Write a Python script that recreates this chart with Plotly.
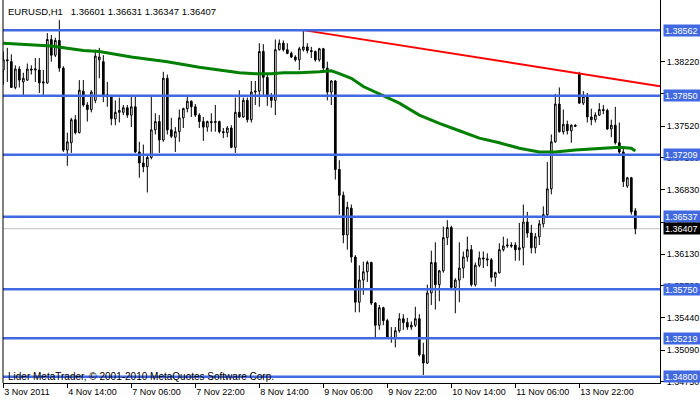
import plotly.graph_objects as go

# ---- candle data (EURUSD H1) ----
open_ = [1.3813, 1.3824, 1.3822, 1.3794, 1.3814, 1.3800, 1.3802, 1.3814, 1.3813, 1.3813,
         1.3800, 1.3799, 1.3846, 1.3829, 1.3845, 1.3815, 1.3726, 1.3734, 1.3759, 1.3745,
         1.3790, 1.3775, 1.3770, 1.3780, 1.3824, 1.3822, 1.3786, 1.3784, 1.3760, 1.3767,
         1.3767, 1.3772, 1.3764, 1.3773, 1.3724, 1.3712, 1.3708, 1.3718, 1.3748, 1.3757,
         1.3737, 1.3804, 1.3748, 1.3740, 1.3746, 1.3761, 1.3771, 1.3779, 1.3773, 1.3764,
         1.3757, 1.3751, 1.3757, 1.3756, 1.3757, 1.3746, 1.3745, 1.3750, 1.3729, 1.3767,
         1.3762, 1.3780, 1.3759, 1.3789, 1.3790, 1.3833, 1.3805, 1.3784, 1.3780, 1.3835,
         1.3842, 1.3835, 1.3831, 1.3827, 1.3824, 1.3835, 1.3838, 1.3834, 1.3833, 1.3824,
         1.3836, 1.3815, 1.3789, 1.3801, 1.3705, 1.3677, 1.3634, 1.3663, 1.3610, 1.3561,
         1.3585, 1.3594, 1.3604, 1.3560, 1.3536, 1.3555, 1.3541, 1.3523, 1.3522, 1.3530,
         1.3543, 1.3539, 1.3534, 1.3536, 1.3543, 1.3504, 1.3495, 1.3571, 1.3604, 1.3580,
         1.3595, 1.3631, 1.3642, 1.3577, 1.3585, 1.3598, 1.3610, 1.3618, 1.3580, 1.3601,
         1.3609, 1.3608, 1.3607, 1.3588, 1.3593, 1.3618, 1.3622, 1.3623, 1.3623, 1.3618,
         1.3620, 1.3648, 1.3636, 1.3620, 1.3632, 1.3646, 1.3656, 1.3684, 1.3735, 1.3776,
         1.3746, 1.3754, 1.3747, 1.3753, 1.3808, 1.3777, 1.3784, 1.3762, 1.3759, 1.3764,
         1.3770, 1.3769, 1.3749, 1.3753, 1.3734, 1.3724, 1.3687, 1.3696, 1.36601]

high = [1.3833, 1.3837, 1.3830, 1.3818, 1.3817, 1.3810, 1.3820, 1.3818, 1.3826, 1.3826,
        1.3813, 1.3853, 1.3851, 1.3848, 1.3867, 1.3817, 1.3745, 1.3761, 1.3764, 1.3802,
        1.3802, 1.3778, 1.3791, 1.3835, 1.3837, 1.3829, 1.3800, 1.3786, 1.3780, 1.3783,
        1.3775, 1.3775, 1.3786, 1.3784, 1.3735, 1.3732, 1.3721, 1.3784, 1.3766, 1.3764,
        1.3811, 1.3808, 1.3761, 1.3751, 1.3770, 1.3772, 1.3786, 1.3780, 1.3776, 1.3766,
        1.3762, 1.3758, 1.3766, 1.3775, 1.3758, 1.3750, 1.3752, 1.3753, 1.3783, 1.3791,
        1.3783, 1.3783, 1.3801, 1.3801, 1.3842, 1.3841, 1.3808, 1.3788, 1.3846, 1.3846,
        1.3845, 1.3842, 1.3833, 1.3829, 1.3838, 1.3856, 1.3842, 1.3838, 1.3834, 1.3837,
        1.3837, 1.3822, 1.3802, 1.3802, 1.3715, 1.3681, 1.3670, 1.3667, 1.3612, 1.3601,
        1.3605, 1.3606, 1.3605, 1.3561, 1.3558, 1.3556, 1.3543, 1.3534, 1.3534, 1.3549,
        1.3548, 1.3544, 1.3540, 1.3556, 1.3548, 1.3517, 1.3580, 1.3617, 1.3626, 1.3596,
        1.3643, 1.3650, 1.3644, 1.3587, 1.3626, 1.3616, 1.3632, 1.3623, 1.3604, 1.3616,
        1.3616, 1.3614, 1.3609, 1.3594, 1.3625, 1.3632, 1.3630, 1.3626, 1.3626, 1.3647,
        1.3667, 1.3659, 1.3645, 1.3636, 1.3650, 1.3665, 1.3713, 1.3743, 1.3787, 1.3794,
        1.3770, 1.3758, 1.3754, 1.3754, 1.3811, 1.3790, 1.3788, 1.3771, 1.3767, 1.3777,
        1.3775, 1.3771, 1.3759, 1.3773, 1.3756, 1.3728, 1.3697, 1.3697, 1.36631]

low = [1.3797, 1.3800, 1.3794, 1.3792, 1.3794, 1.3786, 1.3801, 1.3808, 1.3800, 1.3788,
       1.3786, 1.3798, 1.3822, 1.3827, 1.3811, 1.3724, 1.3709, 1.3723, 1.3743, 1.3744,
       1.3773, 1.3757, 1.3767, 1.3777, 1.3804, 1.3778, 1.3773, 1.3753, 1.3753, 1.3756,
       1.3764, 1.3761, 1.3751, 1.3723, 1.3696, 1.3702, 1.3680, 1.3716, 1.3743, 1.3723,
       1.3735, 1.3743, 1.3739, 1.3724, 1.3735, 1.3750, 1.3767, 1.3762, 1.3762, 1.3750,
       1.3736, 1.3746, 1.3746, 1.3746, 1.3744, 1.3739, 1.3740, 1.3728, 1.3723, 1.3761,
       1.3761, 1.3756, 1.3756, 1.3775, 1.3773, 1.3786, 1.3774, 1.3772, 1.3764, 1.3834,
       1.3833, 1.3830, 1.3826, 1.3822, 1.3813, 1.3833, 1.3831, 1.3826, 1.3822, 1.3822,
       1.3813, 1.3780, 1.3775, 1.3694, 1.3656, 1.3625, 1.3618, 1.3604, 1.3550, 1.3550,
       1.3569, 1.3583, 1.3558, 1.3523, 1.3531, 1.3536, 1.3522, 1.3517, 1.3512, 1.3528,
       1.3531, 1.3531, 1.3531, 1.3534, 1.3502, 1.3482, 1.3494, 1.3558, 1.3553, 1.3562,
       1.3593, 1.3623, 1.3574, 1.3549, 1.3561, 1.3587, 1.3605, 1.3578, 1.3578, 1.3599,
       1.3598, 1.3600, 1.3583, 1.3578, 1.3592, 1.3616, 1.3620, 1.3620, 1.3606, 1.3606,
       1.3601, 1.3631, 1.3614, 1.3614, 1.3623, 1.3642, 1.3654, 1.3678, 1.3734, 1.3745,
       1.3743, 1.3743, 1.3734, 1.3751, 1.3776, 1.3775, 1.3756, 1.3753, 1.3756, 1.3763,
       1.3765, 1.3748, 1.3740, 1.3732, 1.3721, 1.3686, 1.3685, 1.3656, 1.36347]

close = [1.3824, 1.3823, 1.3794, 1.3814, 1.3802, 1.3804, 1.3814, 1.3813, 1.3814, 1.3799,
         1.3799, 1.3846, 1.3829, 1.3845, 1.3815, 1.3726, 1.3735, 1.3759, 1.3745, 1.3791,
         1.3775, 1.3770, 1.3789, 1.3828, 1.3827, 1.3786, 1.3784, 1.3760, 1.3767, 1.3769,
         1.3772, 1.3764, 1.3773, 1.3724, 1.3712, 1.3708, 1.3718, 1.3748, 1.3757, 1.3737,
         1.3804, 1.3748, 1.3741, 1.3746, 1.3761, 1.3771, 1.3779, 1.3773, 1.3764, 1.3757,
         1.3751, 1.3757, 1.3756, 1.3757, 1.3746, 1.3745, 1.3750, 1.3729, 1.3767, 1.3762,
         1.3780, 1.3759, 1.3789, 1.3790, 1.3833, 1.3805, 1.3784, 1.3780, 1.3835, 1.3842,
         1.3835, 1.3831, 1.3827, 1.3824, 1.3836, 1.3838, 1.3834, 1.3833, 1.3824, 1.3836,
         1.3815, 1.3789, 1.3801, 1.3705, 1.3677, 1.3634, 1.3664, 1.3610, 1.3561, 1.3585,
         1.3594, 1.3604, 1.3560, 1.3536, 1.3555, 1.3541, 1.3523, 1.3522, 1.3530, 1.3543,
         1.3539, 1.3534, 1.3536, 1.3543, 1.3504, 1.3495, 1.3571, 1.3604, 1.3580, 1.3595,
         1.3631, 1.3642, 1.3577, 1.3585, 1.3598, 1.3610, 1.3618, 1.3580, 1.3601, 1.3609,
         1.3608, 1.3607, 1.3588, 1.3593, 1.3618, 1.3622, 1.3623, 1.3622, 1.3618, 1.3620,
         1.3648, 1.3636, 1.3620, 1.3632, 1.3646, 1.3656, 1.3684, 1.3735, 1.3776, 1.3746,
         1.3754, 1.3747, 1.3753, 1.3752, 1.3777, 1.3784, 1.3762, 1.3759, 1.3764, 1.3770,
         1.3769, 1.3749, 1.3753, 1.3734, 1.3724, 1.3692, 1.3696, 1.3659, 1.36407]

bars = list(range(len(close)))

# time axis labels (every 16 bars)
time_tick_bars = [0, 16, 32, 48, 64, 80, 96, 112, 128, 144]
time_tick_text = ["3 Nov 2011", "4 Nov 14:00", "7 Nov 06:00", "7 Nov 22:00", "8 Nov 14:00",
                  "9 Nov 06:00", "9 Nov 22:00", "10 Nov 14:00", "11 Nov 06:00", "13 Nov 22:00"]

# price scale ticks
price_ticks = [1.38220, 1.37870, 1.37520, 1.37180, 1.36830, 1.36480, 1.36130,
               1.35790, 1.35440, 1.35090, 1.34750]

# horizontal levels (blue) and bid line
levels = [1.38562, 1.37850, 1.37209, 1.36537, 1.35750, 1.35219, 1.34800]
bid = 1.36407

# moving average (green) read at selected bars
ma_bars = [0, 12, 20, 24, 32, 41, 49, 54, 59, 63, 67, 70, 74, 79, 82, 84, 87, 90, 94,
           99, 104, 109, 114, 119, 124, 129, 134, 138, 143, 149, 154, 157, 158]
ma_vals = [1.3842, 1.3839, 1.3834, 1.3833, 1.3827, 1.3822, 1.3816, 1.3813, 1.3810, 1.3809,
           1.3809, 1.3810, 1.3810, 1.3811, 1.3812, 1.3809, 1.3804, 1.3795, 1.3787, 1.3777,
           1.3764, 1.3755, 1.3747, 1.3739, 1.3734, 1.3728, 1.3724, 1.3724, 1.3726, 1.3728,
           1.3729, 1.3728, 1.3725]

# red trend line (from the 8 Nov high, extending right)
trend_bars = [75, 164.2]
trend_vals = [1.38562, 1.37954]

title_text = "EURUSD,H1&nbsp;&nbsp;&nbsp;1.36601 1.36631 1.36347 1.36407"
footer_text = "Lider MetaTrader, © 2001-2010 MetaQuotes Software Corp."

FONT = "Liberation Sans"
BLUE = "#4169E1"

fig = go.Figure()
fig.add_trace(go.Candlestick(
    x=bars, open=open_, high=high, low=low, close=close,
    increasing=dict(line=dict(color="black", width=1), fillcolor="white"),
    decreasing=dict(line=dict(color="black", width=1), fillcolor="black"),
    whiskerwidth=0, hoverinfo="skip", showlegend=False))
fig.add_trace(go.Scatter(x=ma_bars, y=ma_vals, mode="lines",
                         line=dict(color="#008000", width=3), hoverinfo="skip", showlegend=False))
fig.add_trace(go.Scatter(x=trend_bars, y=trend_vals, mode="lines",
                         line=dict(color="#FF0000", width=2), hoverinfo="skip", showlegend=False))

shapes = []
shapes.append(dict(type="line", xref="paper", yref="y", x0=0, x1=1, y0=bid, y1=bid,
                   line=dict(color="#C0C0C0", width=1), layer="below"))
for lv in levels:
    shapes.append(dict(type="line", xref="paper", yref="y", x0=0, x1=1, y0=lv, y1=lv,
                       line=dict(color=BLUE, width=2.5), layer="above"))
shapes.append(dict(type="line", xref="paper", yref="paper", x0=0, x1=0, y0=0, y1=1,
                   line=dict(color="black", width=1)))

annotations = []
for lv in levels:
    annotations.append(dict(xref="paper", x=1, xanchor="left", xshift=3, yref="y", y=lv,
                            yanchor="middle", text=f"{lv:.5f}", showarrow=False,
                            bgcolor=BLUE, font=dict(color="white", size=9, family=FONT),
                            borderpad=1, width=34, height=9, align="left"))
annotations.append(dict(xref="paper", x=1, xanchor="left", xshift=3, yref="y", y=bid,
                        yanchor="middle", text=f"{bid:.5f}", showarrow=False,
                        bgcolor="black", font=dict(color="white", size=9, family=FONT),
                        borderpad=1, width=34, height=9, align="left"))
annotations.append(dict(xref="paper", x=0, xanchor="left", xshift=3, yref="paper", y=1,
                        yanchor="top", yshift=-4, text=title_text, showarrow=False,
                        font=dict(color="black", size=9.5, family=FONT)))
annotations.append(dict(xref="paper", x=0, xanchor="left", xshift=3, yref="y", y=levels[-1],
                        yanchor="middle", text=footer_text, showarrow=False,
                        font=dict(color="black", size=10, family=FONT)))

fig.update_layout(
    width=700, height=402,
    margin=dict(l=3, r=40, t=0, b=19),
    paper_bgcolor="white", plot_bgcolor="white",
    showlegend=False, boxgap=0.4,
    shapes=shapes, annotations=annotations,
    xaxis=dict(range=[-0.08, 164.17], showgrid=False, zeroline=False,
               showline=True, linecolor="black", linewidth=1,
               ticks="outside", ticklen=4, tickcolor="black", tickwidth=1,
               tickvals=time_tick_bars, ticktext=time_tick_text,
               ticklabelposition="outside right", tickangle=0, automargin=False,
               tickfont=dict(size=9, family=FONT, color="black"),
               rangeslider=dict(visible=False), fixedrange=True),
    yaxis=dict(side="right", range=[1.34733, 1.38889], showgrid=False, zeroline=False,
               showline=True, linecolor="black", linewidth=1, automargin=False,
               ticks="outside", ticklen=4, tickcolor="black", tickwidth=1,
               tickvals=price_ticks, ticktext=[f"{p:.5f}" for p in price_ticks],
               tickfont=dict(size=9, family=FONT, color="black"), fixedrange=True),
)

fig.write_html("out.html", config={"displayModeBar": False},
               post_script="document.body.style.margin='0px';document.body.style.overflow='hidden';")
